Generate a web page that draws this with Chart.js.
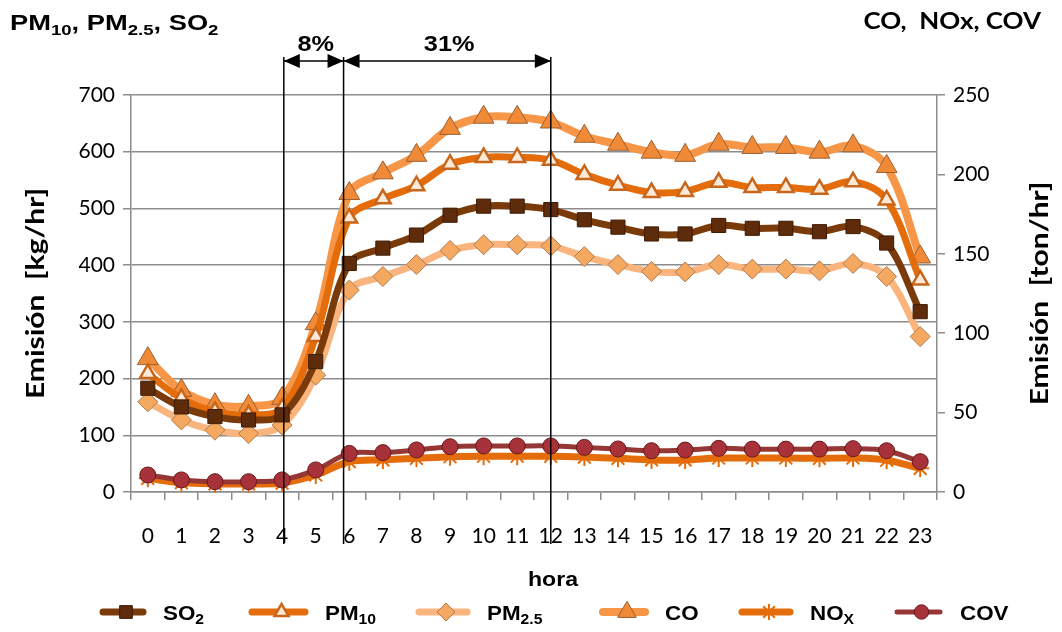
<!DOCTYPE html>
<html>
<head>
<meta charset="utf-8">
<script src="https://cdn.jsdelivr.net/npm/chart.js@4.4.1/dist/chart.umd.min.js"></script>
<style>
  html, body { margin: 0; padding: 0; background: #fff; }
  #wrap { width: 1062px; height: 632px; }
</style>
</head>
<body>
<div id="wrap"><canvas id="c" width="1062" height="632"></canvas></div>
<script>
// hours of the day
const hours = ["0","1","2","3","4","5","6","7","8","9","10","11","12","13","14","15","16","17","18","19","20","21","22","23"];

// left axis, kg/hr
const so2  = [183,150,133,127,136,230,403,430,453,488,504,504,498,480,467,455,455,470,465,465,459,468,439,318];
const pm10 = [209,165,142,136,148,274,483,517,540,578,590,590,585,560,541,528,530,546,537,537,534,547,515,374];
const pm25 = [159,127,109,103,118,206,356,380,401,426,436,436,434,415,401,389,388,401,393,393,390,403,380,274];

// right axis, ton/hr
const co  = [84,64,55,54,59,106,188,201,212,229,236,236,233,224,219,214,212,219,217,217,214,218,205,148];
const nox = [8.6,5.9,5.1,5.1,5.6,10.7,19.1,20.2,21.2,22.2,22.5,22.5,22.5,22,21.2,20.2,20.2,21.4,21.4,21.4,21.2,21.4,20,14.9];
const cov = [10.7,7.6,6.5,6.5,7.6,13.9,24.3,24.8,26.5,28.5,29,29,29,28.1,27.1,26,26.4,27.5,27,27,27,27.3,26,19.1];

// annotation spans (hour positions) and their labels
const spanMarks = [4.05, 5.83, 12];
const spanLabels = ["8%", "31%"];

const leftTicks = { min: 0, max: 700, step: 100 };
const rightTicks = { min: 0, max: 250, step: 50 };

const GRID = "#8c8c8c";
const CAL = "Lato, 'Open Sans', sans-serif";
const ARIAL = "'Liberation Sans', Arial, sans-serif";

function line(label, data, axis, color, width, style, radius, fill, border, bw, order) {
  return {
    label: label, data: data, yAxisID: axis,
    borderColor: color, borderWidth: width,
    pointStyle: style, pointRadius: radius, pointHoverRadius: radius,
    pointBackgroundColor: fill, pointBorderColor: border, pointBorderWidth: bw,
    tension: 0.35, fill: false, order: order, clip: false
  };
}

const datasets = [
  line("SO2",   so2,  "y",  "#7b3a0a", 7, "rect",     10, "#5e2c0a", "#3e1c05", 1, 1),
  line("PM10",  pm10, "y",  "#e46c0a", 7, "triangle",  9, "#fde9d6", "#c8661c", 2.5, 2),
  line("PM2.5", pm25, "y",  "#fab47e", 7, "rectRot",  10, "#f5a860", "#b07a50", 1, 3),
  line("CO",    co,   "y2", "#f79646", 8, "triangle", 12, "#f18a36", "#9a6035", 1, 4),
  line("NOx",   nox,  "y2", "#e46c0a", 7, "star",      9, "#e46c0a", "#e46c0a", 2, 5),
  line("COV",   cov,  "y2", "#953735", 5, "circle",    8, "#a8323a", "#6a181c", 1, 0)
];

// legend entries: text parts, [text, isSubscript]
const legendItems = [
  { ds: 0, parts: [["SO", 0], ["2", 1]] },
  { ds: 1, parts: [["PM", 0], ["10", 1]] },
  { ds: 2, parts: [["PM", 0], ["2.5", 1]] },
  { ds: 3, parts: [["CO", 0]] },
  { ds: 4, parts: [["NO", 0], ["X", 1]] },
  { ds: 5, parts: [["COV", 0]] }
];

// draws bold text with subscripts, stretched horizontally by sx
function drawParts(ctx, parts, x, y, size, family, align, sx) {
  sx = sx || 1;
  const subSize = Math.round(size * 0.68);
  let total = 0;
  parts.forEach(function (p) {
    ctx.font = "bold " + (p[1] ? subSize : size) + "px " + family;
    total += ctx.measureText(p[0]).width;
  });
  total *= sx;
  const startX = align === "center" ? x - total / 2 : (align === "right" ? x - total : x);
  ctx.save();
  ctx.translate(startX, y);
  ctx.scale(sx, 1);
  ctx.textAlign = "left";
  ctx.textBaseline = "alphabetic";
  let cx = 0;
  parts.forEach(function (p) {
    ctx.font = "bold " + (p[1] ? subSize : size) + "px " + family;
    ctx.fillText(p[0], cx, p[1] ? size * 0.22 : 0);
    cx += ctx.measureText(p[0]).width;
  });
  ctx.restore();
}

function arrowHead(ctx, tipX, y, dir) {
  ctx.beginPath();
  ctx.moveTo(tipX, y);
  ctx.lineTo(tipX - dir * 16, y - 7);
  ctx.lineTo(tipX - dir * 16, y + 7);
  ctx.closePath();
  ctx.fill();
}

function verticalTitle(ctx, text, cx, cy) {
  ctx.save();
  ctx.translate(cx, cy);
  ctx.rotate(-Math.PI / 2);
  ctx.textBaseline = "middle";
  drawParts(ctx, [[text, 0]], 0, 0, 25, CAL, "center", 1.2);
  ctx.restore();
}

const decor = {
  id: "decor",
  afterDraw: function (chart) {
    const ctx = chart.ctx;
    const xs = chart.scales.x;
    const ys = chart.scales.y;
    const area = chart.chartArea;
    ctx.save();
    ctx.fillStyle = "#000";

    // corner titles
    drawParts(ctx, [["PM", 0], ["10", 1], [", PM", 0], ["2.5", 1], [", SO", 0], ["2", 1]], 10, 30, 22, ARIAL, "left", 1.24);
    drawParts(ctx, [["CO,  NOx, COV", 0]], 1041, 29, 22, CAL, "right", 1.18);

    // axis titles
    const midY = (area.top + area.bottom) / 2;
    verticalTitle(ctx, "Emisión  [kg/hr]", 44, midY);
    verticalTitle(ctx, "Emisión  [ton/hr]", 1048, midY);

    drawParts(ctx, [["hora", 0]], (area.left + area.right) / 2 + 19, 586, 21, ARIAL, "center", 1.1);

    // span markers
    const top = ys.getPixelForValue(leftTicks.max) - 38;
    const bottom = area.bottom + 52;
    const arrowY = top + 4;
    const px = spanMarks.map(function (h) { return xs.getPixelForValue(h); });
    ctx.strokeStyle = "#000";
    ctx.lineWidth = 1.5;
    px.forEach(function (p) {
      ctx.beginPath();
      ctx.moveTo(p, top);
      ctx.lineTo(p, bottom);
      ctx.stroke();
    });
    for (let i = 0; i < px.length - 1; i++) {
      ctx.beginPath();
      ctx.moveTo(px[i], arrowY);
      ctx.lineTo(px[i + 1], arrowY);
      ctx.stroke();
      arrowHead(ctx, px[i], arrowY, -1);
      arrowHead(ctx, px[i + 1], arrowY, 1);
      drawParts(ctx, [[spanLabels[i], 0]], (px[i] + px[i + 1]) / 2 + 2, arrowY - 10, 22, ARIAL, "center", 1.15);
    }

    // legend
    const legX = [103, 252, 419, 603, 742, 897];
    const legW = [40, 53, 48, 42, 48, 43];
    const legY = 612;
    legendItems.forEach(function (item, i) {
      const d = chart.data.datasets[item.ds];
      const x0 = legX[i], x1 = legX[i] + legW[i];
      ctx.strokeStyle = d.borderColor;
      ctx.lineWidth = d.borderWidth;
      ctx.lineCap = "round";
      ctx.beginPath();
      ctx.moveTo(x0, legY);
      ctx.lineTo(x1, legY);
      ctx.stroke();
      ctx.lineCap = "butt";
      ctx.fillStyle = d.pointBackgroundColor;
      ctx.strokeStyle = d.pointBorderColor;
      ctx.lineWidth = d.pointBorderWidth;
      Chart.helpers.drawPoint(ctx, {
        pointStyle: d.pointStyle, rotation: 0,
        radius: d.pointRadius * 0.9, borderWidth: d.pointBorderWidth
      }, (x0 + x1) / 2 + 3, legY);
      ctx.fillStyle = "#000";
      drawParts(ctx, item.parts, x1 + 20, legY + 8, 20, ARIAL, "left", 1.12);
    });
    ctx.restore();
  }
};

new Chart(document.getElementById("c"), {
  type: "line",
  data: { labels: hours, datasets: datasets },
  options: {
    responsive: false,
    animation: false,
    devicePixelRatio: 1,
    layout: { padding: { top: 95, left: 0, right: 0, bottom: 0 } },
    plugins: { legend: { display: false }, tooltip: { enabled: false } },
    scales: {
      x: {
        offset: true,
        grid: { display: true, drawOnChartArea: false, drawTicks: true, tickLength: 8, color: GRID, lineWidth: 1.5, offset: true },
        border: { color: GRID, width: 1.5 },
        ticks: { color: "#000", font: { family: CAL, size: 21 }, padding: 24, maxRotation: 0, autoSkip: false },
        afterFit: function (s) { s.height = 140; }
      },
      y: {
        position: "left",
        min: leftTicks.min, max: leftTicks.max,
        grid: { color: GRID, lineWidth: 1.5, tickLength: 8 },
        border: { color: GRID, width: 1.5 },
        ticks: { stepSize: leftTicks.step, color: "#000", font: { family: CAL, size: 21 }, padding: 8 },
        afterFit: function (s) { s.width = 131; }
      },
      y2: {
        position: "right",
        min: rightTicks.min, max: rightTicks.max,
        grid: { drawOnChartArea: false, color: GRID, lineWidth: 1.5, tickLength: 8 },
        border: { color: GRID, width: 1.5 },
        ticks: { stepSize: rightTicks.step, color: "#000", font: { family: CAL, size: 21 }, padding: 8 },
        afterFit: function (s) { s.width = 125; }
      }
    }
  },
  plugins: [decor]
});
</script>
</body>
</html>
